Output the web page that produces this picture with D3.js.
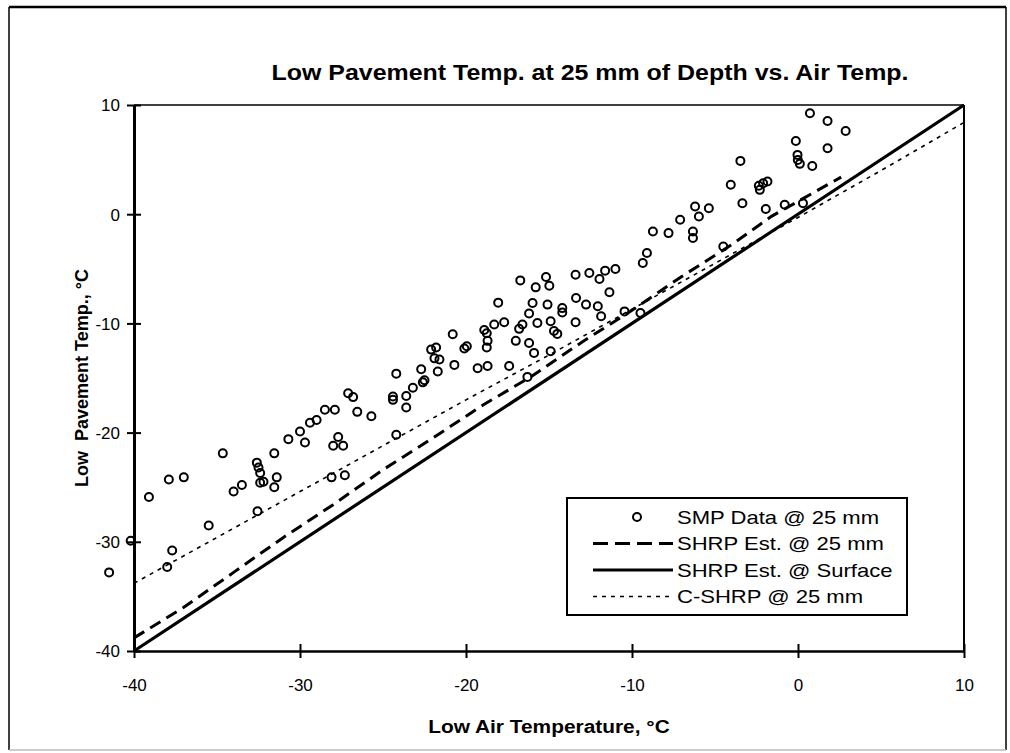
<!DOCTYPE html>
<html lang="en">
<head>
<meta charset="UTF-8">
<script src="https://d3js.org/d3.v7.min.js"></script>
<style>
  body { margin: 0; background: #fff; }
  svg text { font-family: "Liberation Sans", Arial, sans-serif; fill: #000; }
  .tick-label { font-size: 17px; }
  .axis-title { font-size: 18px; font-weight: bold; white-space: pre; }
  .title { font-size: 21.5px; font-weight: bold; }
  .legend-text { font-size: 19px; }
</style>
</head>
<body>
<svg id="chart" width="1010" height="753"></svg>
<script>

// ticks
const xTicks = [-40, -30, -20, -10, 0, 10]
const yTicks = [-40, -30, -20, -10, 0, 10]

// SMP data @ 25 mm (air temp, pavement temp)
const smpX = [-39.1, -37.9, -37.0, -35.5, -37.7, -38.0, -34.65, -34.0, -33.5, -32.6, -32.5, -32.4, -32.4, -32.2, -32.56,
  -31.55, -31.4, -31.55, -30.7, -30.0, -29.7, -29.4, -29.0, -28.5, -27.9, -27.1, -26.8, -26.55, -25.7, -27.7,
  -28.0, -27.4, -28.1, -27.3, -24.4, -24.4, -24.2, -24.2, -40.2, -41.5,
  -23.2, -22.6, -22.5, -23.6, -23.6, -22.7, -22.1, -21.8, -21.9, -21.6, -21.7, -20.8, -20.1, -19.95, -20.7,
  -19.3, -18.7, -18.9, -18.75, -18.7, -18.75, -18.3, -17.7, -18.06, -17.4, -17.0, -16.8, -16.6, -16.2, -15.9,
  -16.3, -16.2, -15.7, -15.99, -15.09, -14.9, -14.7, -14.5, -14.9, -14.2, -14.2, -13.4, -13.37, -12.77, -12.06,
  -11.86, -10.45, -9.49,
  -16.73, -15.8, -15.18, -14.98, -13.4, -12.57, -11.96, -11.62, -11.0, -11.36, -9.1, -9.35, -8.74, -7.8,
  0.72, 1.78, 2.87, 1.78, -0.13, -0.03, -0.01, 0.11, 0.86, -3.47, -4.05, -3.35, -2.36, -2.1, -1.84,
  -2.3, -1.94, -0.8, 0.3, -4.5, -7.1, -6.2, -5.37, -5.97, -6.33, -6.33]
const smpY = [-25.9, -24.3, -24.1, -28.5, -30.8, -32.3, -21.9, -25.4, -24.8, -22.75, -23.2, -23.7, -24.6, -24.5, -27.2,
  -21.9, -24.1, -25.0, -20.6, -19.9, -20.9, -19.1, -18.85, -17.9, -17.9, -16.4, -16.75, -18.1, -18.5, -20.4,
  -21.2, -21.2, -24.1, -23.9, -16.7, -17.0, -14.6, -20.2, -29.9, -32.8,
  -15.9, -15.4, -15.2, -16.65, -17.7, -14.2, -12.4, -12.2, -13.2, -13.3, -14.4, -11.0, -12.3, -12.1, -13.8,
  -14.1, -13.9, -10.6, -10.9, -11.6, -12.2, -10.1, -9.9, -8.1, -13.9, -11.6, -10.5, -10.1, -11.8, -12.7,
  -14.9, -9.1, -9.96, -8.13, -8.28, -9.8, -10.7, -10.96, -12.55, -8.6, -9.0, -9.9, -7.67, -8.28, -8.43,
  -9.35, -8.9, -9.04,
  -6.06, -6.7, -5.75, -6.55, -5.54, -5.39, -5.93, -5.17, -5.02, -7.15, -3.56, -4.47, -1.58, -1.73,
  9.24, 8.54, 7.62, 6.04, 6.71, 5.43, 4.97, 4.61, 4.42, 4.88, 2.69, 1.01, 2.6, 2.84, 3.0,
  2.23, 0.47, 0.86, 1.01, -2.95, -0.51, 0.7, 0.55, -0.21, -1.58, -2.18]

// SHRP estimate @ 25 mm
const shrpX = [-40, -37, -34, -31, -28, -25, -22, -19, -16, -13, -10, -7, -4, -1.6, 1.2, 2.6]
const shrpY = [-38.8, -36.0, -32.8, -29.6, -26.6, -23.4, -20.5, -17.5, -14.8, -11.7, -8.8, -5.7, -2.8, -0.2, 2.2, 3.4]

// SHRP estimate @ surface
const surfX = [-40, 10]
const surfY = [-40, 10]

// C-SHRP @ 25 mm
const cshrpX = [-40, -35, -30, -25, -20, -15, -10, -5, 0, 5, 10]
const cshrpY = [-33.8, -29.6, -25.4, -21.2, -17.0, -12.9, -8.7, -4.5, -0.3, 4.0, 8.4]

const legendLabels = ['SMP Data @ 25 mm', 'SHRP Est. @ 25 mm', 'SHRP Est. @ Surface', 'C-SHRP @ 25 mm']

// the scanned original is a little wider than normal Arial
const stretch = 1.16

let margin = {top: 105, right: 46, bottom: 102, left: 134},
    W = 1010,
    H = 753,
    width = W - margin.left - margin.right,
    height = H - margin.top - margin.bottom;

let svg = d3.select('#chart')

// outer frame
svg.append('line').attr('x1', 9).attr('x2', 1006).attr('y1', 7).attr('y2', 7)
    .attr('stroke', '#000').attr('stroke-width', 2.5)
svg.append('line').attr('x1', 9).attr('x2', 9).attr('y1', 7).attr('y2', 750)
    .attr('stroke', '#000').attr('stroke-width', 1.5)
svg.append('line').attr('x1', 1006).attr('x2', 1006).attr('y1', 7).attr('y2', 750)
    .attr('stroke', '#000').attr('stroke-width', 1.5)
svg.append('line').attr('x1', 9).attr('x2', 1006).attr('y1', 750).attr('y2', 750)
    .attr('stroke', '#bbb').attr('stroke-width', 1.5)

let g = svg.append('g')
    .attr('transform', `translate(${margin.left},${margin.top})`)

let x = d3.scaleLinear().domain([-40, 10]).range([0, width])
let y = d3.scaleLinear().domain([-40, 10]).range([height, 0])

// plot box top and right
g.append('line').attr('x1', 0).attr('x2', width).attr('y1', 0).attr('y2', 0)
    .attr('stroke', '#000').attr('stroke-width', 1.5)
g.append('line').attr('x1', width).attr('x2', width).attr('y1', 0).attr('y2', height)
    .attr('stroke', '#000').attr('stroke-width', 2)

// axes (plain hyphen minus, as in the original)
let fmt = d => String(d)

let xAxis = g.append('g')
    .attr('transform', `translate(0,${height})`)
    .call(d3.axisBottom(x).tickValues(xTicks).tickSize(7).tickSizeOuter(0).tickFormat(fmt))
xAxis.select('.domain').attr('stroke-width', 2.5)
xAxis.selectAll('.tick line').attr('y1', -7).attr('stroke-width', 2)
xAxis.selectAll('.tick text').attr('class', 'tick-label').attr('dy', 0).attr('y', 40)

let yAxis = g.append('g')
    .call(d3.axisLeft(y).tickValues(yTicks).tickSize(7).tickSizeOuter(0).tickFormat(fmt))
yAxis.select('.domain').attr('stroke-width', 3)
yAxis.selectAll('.tick line').attr('x1', 7).attr('stroke-width', 2)
yAxis.selectAll('.tick text').attr('class', 'tick-label').attr('x', -14).attr('dy', '0.35em')

// lines
let line = d3.line().x(d => x(d[0])).y(d => y(d[1]))

g.append('path')
    .datum(d3.zip(cshrpX, cshrpY))
    .attr('d', line)
    .attr('fill', 'none').attr('stroke', '#000').attr('stroke-width', 1.6)
    .attr('stroke-dasharray', '4,5')

g.append('path')
    .datum(d3.zip(shrpX, shrpY))
    .attr('d', line)
    .attr('fill', 'none').attr('stroke', '#000').attr('stroke-width', 3)
    .attr('stroke-dasharray', '12,7')

g.append('path')
    .datum(d3.zip(surfX, surfY))
    .attr('d', line)
    .attr('fill', 'none').attr('stroke', '#000').attr('stroke-width', 3.2)

// scatter
g.selectAll('.smp')
  .data(d3.zip(smpX, smpY))
  .join('circle')
    .attr('class', 'smp')
    .attr('cx', d => x(d[0]))
    .attr('cy', d => y(d[1]))
    .attr('r', 4)
    .attr('fill', 'none')
    .attr('stroke', '#000')
    .attr('stroke-width', 2)

// legend
let legend = svg.append('g').attr('transform', 'translate(567,498)')
legend.append('rect')
    .attr('width', 340).attr('height', 117)
    .attr('fill', '#fff').attr('stroke', '#000').attr('stroke-width', 2)

let rowY = i => 19 + i * 26.5
legend.append('circle')
    .attr('cx', 70).attr('cy', rowY(0)).attr('r', 4)
    .attr('fill', 'none').attr('stroke', '#000').attr('stroke-width', 2)
legend.append('line')
    .attr('x1', 26).attr('x2', 106).attr('y1', rowY(1)).attr('y2', rowY(1))
    .attr('stroke', '#000').attr('stroke-width', 3).attr('stroke-dasharray', '15,7')
legend.append('line')
    .attr('x1', 26).attr('x2', 106).attr('y1', rowY(2)).attr('y2', rowY(2))
    .attr('stroke', '#000').attr('stroke-width', 3.2)
legend.append('line')
    .attr('x1', 26).attr('x2', 106).attr('y1', rowY(3)).attr('y2', rowY(3))
    .attr('stroke', '#000').attr('stroke-width', 1.6).attr('stroke-dasharray', '4,5')

legend.selectAll('.legend-text')
  .data(legendLabels)
  .join('text')
    .attr('class', 'legend-text')
    .attr('x', 110)
    .attr('y', (d, i) => rowY(i))
    .attr('dy', '0.35em')
    .text(d => d)

// titles
svg.append('text')
    .attr('class', 'title')
    .attr('x', 590).attr('y', 80)
    .attr('text-anchor', 'middle')
    .text('Low Pavement Temp. at 25 mm of Depth vs. Air Temp.')

svg.append('text')
    .attr('class', 'axis-title')
    .attr('x', margin.left + x(-15)).attr('y', 733)
    .attr('text-anchor', 'middle')
    .text('Low Air Temperature, °C')

svg.append('text')
    .attr('class', 'axis-title')
    .attr('transform', `translate(88,${margin.top + height / 2}) rotate(-90)`)
    .attr('text-anchor', 'middle')
    .text('Low  Pavement Temp., °C')

// widen horizontal text to the scan's proportions
svg.selectAll('.title, .legend-text, .axis-title')
  .filter(function() { return !this.getAttribute('transform') })
  .each(function() {
    let len = this.getComputedTextLength()
    d3.select(this)
        .attr('textLength', len * stretch)
        .attr('lengthAdjust', 'spacingAndGlyphs')
  })

</script>
</body>
</html>
